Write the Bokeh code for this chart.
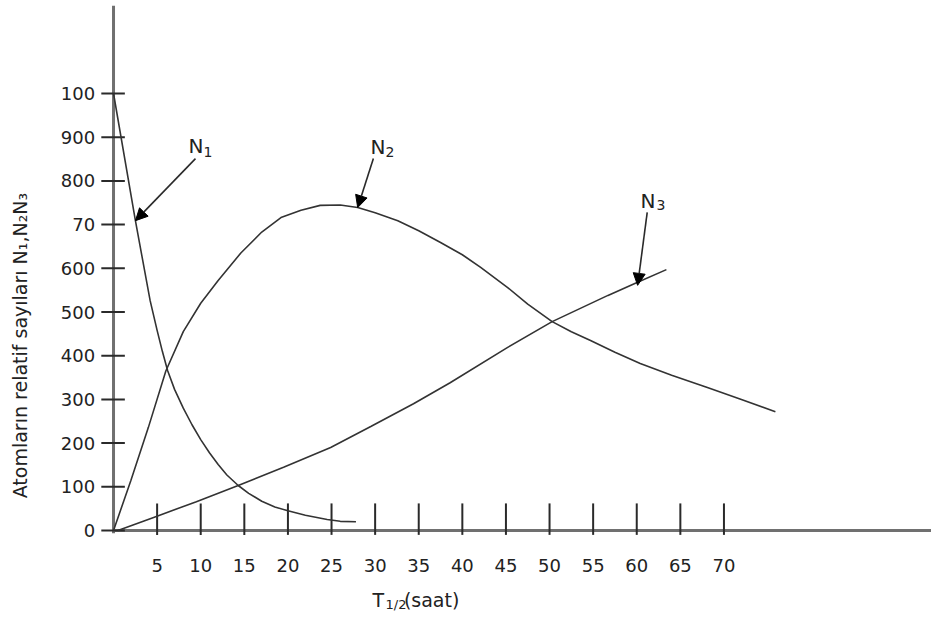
import numpy as np
from bokeh.plotting import figure
from bokeh.models import Arrow, NormalHead, Range1d
from bokeh.core.properties import value
from bokeh.embed import file_html
from bokeh.resources import INLINE

# ---- data ----
x_ticks = [5, 10, 15, 20, 25, 30, 35, 40, 45, 50, 55, 60, 65, 70]
x_tick_labels = ["5", "10", "15", "20", "25", "30", "35", "40", "45", "50", "55", "60", "65", "70"]
y_ticks = [0, 100, 200, 300, 400, 500, 600, 700, 800, 900, 1000]
y_tick_labels = ["0", "100", "200", "300", "400", "500", "600", "70", "800", "900", "100"]

n1_t = [0, 2.5, 4.2, 5.0, 5.6, 6.2, 7.0, 8.0, 9.0, 10.0, 11.0, 12.0, 13.0, 14.3,
        15.5, 17.0, 18.5, 20.0, 22.0, 24.5, 26.0, 27.8]
n1_v = [1000, 710, 526, 458, 410, 366, 323, 280, 242, 208, 178, 151, 127, 103,
        85, 67, 54, 45, 35, 25, 21, 20]

n2_t = [0, 2.0, 4.0, 6.0, 8.0, 10.0, 12.0, 14.6, 17.0, 19.2, 21.5, 23.7, 26.0, 28.0,
        30.0, 32.6, 35.0, 37.5, 40.0, 42.1, 45.2, 47.5, 50.3, 52.5, 54.7, 57.5, 60.4,
        64.0, 68.1, 72.0, 75.9]
n2_v = [0, 115, 236, 365, 455, 520, 572, 635, 683, 716, 733, 744, 745, 739,
        727, 709, 686, 659, 631, 602, 556, 518, 478, 455, 435, 408, 382,
        355, 327, 300, 272]

n3_t = [0.5, 4.6, 9.5, 14.3, 19.5, 24.9, 29.5, 34.4, 38.6, 45.2, 50.3, 56.7, 60.1, 63.4]
n3_v = [0, 30, 66, 103, 145, 190, 238, 290, 338, 419, 478, 538, 568, 597]

label_main = ["N", "N", "N"]
label_sub = ["1", "2", "3"]
label_t = [8.60, 29.47, 60.44]
label_v = [879, 877, 755]
sub_t = [10.32, 31.19, 62.27]
sub_v = [865, 865, 744]
arrow_from_t = [9.4, 29.8, 61.2]
arrow_from_v = [851, 851, 728]
arrow_to_t = [2.52, 28.0, 60.1]
arrow_to_v = [709, 739, 561]

y_title = "Atomlar\u0131n  relatif  say\u0131lar\u0131 N\u2081,N\u2082N\u2083"

FONT = "DejaVu Sans"
W, H = 931, 614

p = figure(width=W, height=H, output_backend="svg", toolbar_location=None,
           x_range=Range1d(-12.96, 93.8), y_range=Range1d(-192.2, 1212.8),
           x_axis_type=None, y_axis_type=None, min_border=0)
p.grid.visible = False
p.outline_line_color = None
p.background_fill_color = "white"

axis_col = "#707070"
ink = "#2a2a2a"
txt = "#222222"

# axes lines
p.segment(x0=[0], y0=[-6], x1=[0], y1=[1201], line_color=axis_col, line_width=3)
p.segment(x0=[0], y0=[0], x1=[96], y1=[0], line_color=axis_col, line_width=3)

# y ticks
p.segment(x0=[-1.4] * len(y_ticks), y0=y_ticks, x1=[1.3] * len(y_ticks), y1=y_ticks,
          line_color=ink, line_width=2)
p.text(x=[-2.1] * len(y_ticks), y=y_ticks, text=y_tick_labels, text_align="right",
       text_baseline="middle", text_font=value(FONT), text_font_size="18px", text_color=txt)

# x ticks
p.segment(x0=x_ticks, y0=[-10] * len(x_ticks), x1=x_ticks, y1=[62] * len(x_ticks),
          line_color=ink, line_width=2)
p.text(x=x_ticks, y=[-80] * len(x_ticks), text=x_tick_labels, text_align="center",
       text_baseline="middle", text_font=value(FONT), text_font_size="18px", text_color=txt)

# curves
for t, v in ((n1_t, n1_v), (n2_t, n2_v), (n3_t, n3_v)):
    p.line(t, v, line_color="#333333", line_width=1.6)

# arrows + labels
for i in range(3):
    p.add_layout(Arrow(end=NormalHead(size=12, fill_color="black", line_color="black"),
                       x_start=arrow_from_t[i], y_start=arrow_from_v[i],
                       x_end=arrow_to_t[i], y_end=arrow_to_v[i],
                       line_color=ink, line_width=1.6))
p.text(x=label_t, y=label_v, text=label_main, text_align="left", text_baseline="middle",
       text_font=value(FONT), text_font_size="20px", text_color=txt)
p.text(x=sub_t, y=sub_v, text=label_sub, text_align="left", text_baseline="middle",
       text_font=value(FONT), text_font_size="14px", text_color=txt)

# axis titles
p.text(x=[-10.7], y=[437], text=[y_title], angle=np.pi / 2, text_align="center",
       text_baseline="middle", text_font=value(FONT), text_font_size="19px", text_color=txt)
p.text(x=[29.70], y=[-158], text=["T"], text_align="left", text_baseline="middle",
       text_font=value(FONT), text_font_size="19px", text_color=txt)
p.text(x=[31.20], y=[-170], text=["1/2"], text_align="left", text_baseline="middle",
       text_font=value(FONT), text_font_size="13px", text_color=txt)
p.text(x=[33.30], y=[-158], text=["(saat)"], text_align="left", text_baseline="middle",
       text_font=value(FONT), text_font_size="19px", text_color=txt)

open("out.html", "w").write(file_html(p, INLINE))
